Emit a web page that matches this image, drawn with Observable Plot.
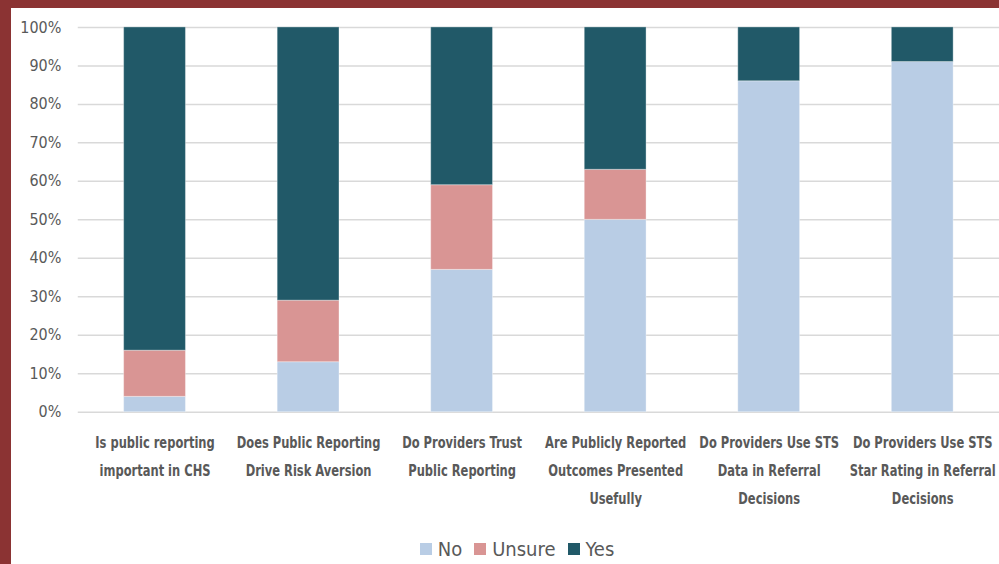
<!DOCTYPE html>
<html>
<head>
<meta charset="utf-8">
<script src="https://cdn.jsdelivr.net/npm/d3@7"></script>
<script src="https://cdn.jsdelivr.net/npm/@observablehq/plot@0.6"></script>
<style>
  html, body { margin: 0; padding: 0; background: #fff; overflow: hidden; width: 999px; height: 564px; }
  #frame { position: absolute; left: 0; top: 0; width: 999px; height: 564px; box-sizing: border-box;
           border-left: 11px solid #8B3333; border-top: 8px solid #8B3333; background: #fff; }
  #chart { position: absolute; left: 0; top: 0; }
  #legend { position: absolute; top: 537px; left: 0; width: 1034px; display: flex; justify-content: center; gap: 12px;
            font-family: "DejaVu Sans Condensed", sans-serif; font-size: 20px; color: #595959; }
  #legend .item { display: flex; align-items: center; gap: 6px; }
  #legend .sw { width: 12px; height: 12px; display: inline-block; }
</style>
</head>
<body>
<div id="frame"></div>
<div id="chart"></div>
<div id="legend"></div>
<script>
const categories = [
  "Is public reporting important in CHS",
  "Does Public Reporting Drive Risk Aversion",
  "Do Providers Trust Public Reporting",
  "Are Publicly Reported Outcomes Presented Usefully",
  "Do Providers Use STS Data in Referral Decisions",
  "Do Providers Use STS Star Rating in Referral Decisions"
];
const tickLabels = [
  "Is public reporting\nimportant in CHS",
  "Does Public Reporting\nDrive Risk Aversion",
  "Do Providers Trust\nPublic Reporting",
  "Are Publicly Reported\nOutcomes Presented\nUsefully",
  "Do Providers Use STS\nData in Referral\nDecisions",
  "Do Providers Use STS\nStar Rating in Referral\nDecisions"
];
const series = ["No", "Unsure", "Yes"];
const colors = ["#B9CDE5", "#D99594", "#215968"];
const noVals = [0.04, 0.13, 0.37, 0.50, 0.86, 0.91];
const unsureVals = [0.12, 0.16, 0.22, 0.13, 0.00, 0.00];
const yesVals = [0.84, 0.71, 0.41, 0.37, 0.14, 0.09];
const yTicks = [0, 0.1, 0.2, 0.3, 0.4, 0.5, 0.6, 0.7, 0.8, 0.9, 1.0];

const valuesBySeries = {No: noVals, Unsure: unsureVals, Yes: yesVals};
const data = [];
series.forEach(s => categories.forEach((c, i) => data.push({category: c, series: s, value: valuesBySeries[s][i]})));
const labelOf = new Map(categories.map((c, i) => [c, tickLabels[i]]));

const font = '"DejaVu Sans Condensed", sans-serif';

const chart = Plot.plot({
  width: 1002,
  height: 520,
  marginTop: 27,
  marginBottom: 107,
  marginLeft: 78,
  marginRight: 0,
  style: {fontFamily: font, background: "transparent", overflow: "visible"},
  x: {domain: categories, paddingInner: 0.6, paddingOuter: 0.3, axis: null},
  y: {domain: [0, 1], axis: null},
  color: {domain: series, range: colors},
  marks: [
    Plot.ruleY(yTicks, {stroke: "#D9D9D9", strokeWidth: 1.5}),
    Plot.barY(data, {x: "category", y: "value", fill: "series", order: series, stroke: "#ffffff", strokeOpacity: 0.35, strokeWidth: 1}),
    Plot.axisY({ticks: yTicks, tickFormat: d3.format(".0%"), tickSize: 0, tickPadding: 17, fontSize: 16, fill: "#595959", label: null}),
    Plot.axisX({tickFormat: d => labelOf.get(d), tickSize: 0, tickPadding: 16, fontSize: 16, fontWeight: "bold", fill: "#595959", lineHeight: 1.75, lineAnchor: "top", label: null})
  ]
});
document.getElementById("chart").appendChild(chart);

// Narrow the bold category labels horizontally (the reference uses a condensed face):
// "Do Providers Use STS" spans about 140px in the reference.
const probe = document.createElementNS("http://www.w3.org/2000/svg", "text");
probe.setAttribute("font-size", 16);
probe.setAttribute("font-weight", "bold");
probe.setAttribute("font-family", font);
probe.textContent = "Do Providers Use STS";
chart.appendChild(probe);
const k = 140 / probe.getComputedTextLength();
probe.remove();
chart.querySelectorAll('g[aria-label="x-axis tick label"] text').forEach(t => {
  const bb = t.getBBox();
  const cx = bb.x + bb.width / 2;
  const tr = t.getAttribute("transform") || "";
  t.setAttribute("transform", `${tr} translate(${cx},0) scale(${k.toFixed(3)},1) translate(${-cx},0)`);
});

const legend = document.getElementById("legend");
series.forEach((s, i) => {
  const it = document.createElement("div");
  it.className = "item";
  const sw = document.createElement("span");
  sw.className = "sw";
  sw.style.background = colors[i];
  const tx = document.createElement("span");
  tx.textContent = s;
  it.appendChild(sw); it.appendChild(tx);
  legend.appendChild(it);
});
</script>
</body>
</html>
